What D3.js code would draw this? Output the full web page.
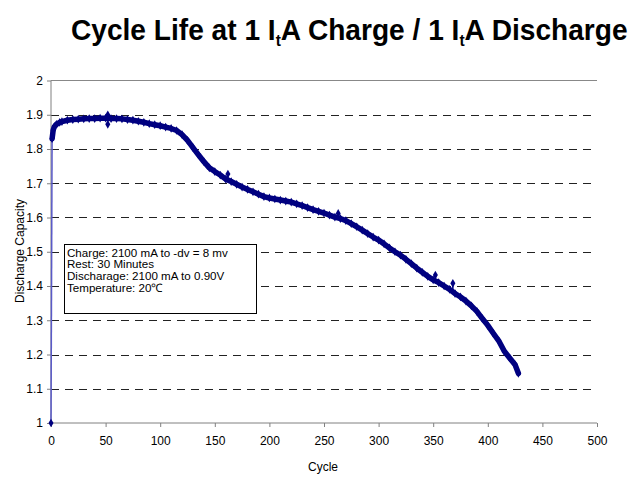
<!DOCTYPE html>
<html><head><meta charset="utf-8">
<script src="https://cdn.jsdelivr.net/npm/d3@7"></script>
<style>
html,body{margin:0;padding:0;background:#fff;}
svg{display:block;font-family:"Liberation Sans",Arial,Helvetica,sans-serif;}
</style></head>
<body>
<svg id="chart" width="640" height="478"></svg>
<script>
// ---- data ----
const cycles = [0,1,2,3,5,8,10,15,20,25,30,35,40,45,50,55,60,65,70,75,80,85,90,95,100,105,110,115,120,125,130,135,140,145,150,155,160,165,170,175,180,185,190,195,200,205,210,215,220,225,230,235,240,245,250,255,260,265,270,275,280,285,290,295,300,305,310,315,320,325,330,335,340,345,350,355,360,365,370,375,380,385,390,395,400,405,410,415,420,425,428];
const capacity = [1.0,1.83,1.855,1.865,1.872,1.878,1.88,1.884,1.886,1.887,1.888,1.889,1.889,1.89,1.89,1.889,1.889,1.888,1.886,1.884,1.881,1.878,1.874,1.871,1.868,1.864,1.86,1.854,1.842,1.825,1.804,1.783,1.763,1.745,1.734,1.724,1.712,1.705,1.697,1.689,1.682,1.675,1.668,1.661,1.657,1.654,1.651,1.648,1.645,1.64,1.635,1.629,1.623,1.618,1.613,1.607,1.601,1.597,1.591,1.582,1.573,1.563,1.553,1.543,1.534,1.523,1.511,1.5,1.49,1.478,1.465,1.452,1.44,1.428,1.418,1.41,1.4,1.39,1.378,1.368,1.356,1.342,1.326,1.305,1.285,1.262,1.24,1.21,1.19,1.17,1.145];
const outlierCycles = [52,52,162,263,352,368];
const outlierValues = [1.872,1.90,1.727,1.612,1.432,1.408];
const xTicks = [0,50,100,150,200,250,300,350,400,450,500];
const yTicks = [1,1.1,1.2,1.3,1.4,1.5,1.6,1.7,1.8,1.9,2];
const yTickLabels = ["1","1.1","1.2","1.3","1.4","1.5","1.6","1.7","1.8","1.9","2"];
const notes = ["Charge: 2100 mA to -dv = 8 mv","Rest: 30 Minutes","Discharage: 2100 mA to 0.90V","Temperature: 20\u2103"];

// ---- layout ----
const svg = d3.select("#chart");
const L = 51, R = 597, T = 80.5, B = 423;
const x = d3.scaleLinear().domain([0,500]).range([L,R]);
const y = d3.scaleLinear().domain([1,2]).range([B,T]);
const navy = "#000080";

// title
const title = svg.append("text").attr("x",0).attr("y",40)
  .attr("font-size",29).attr("font-weight","bold").attr("fill","#000");
title.append("tspan").text("Cycle Life at 1 I");
title.append("tspan").attr("font-size",16).attr("dy",6).text("t");
title.append("tspan").attr("dy",-6).text("A Charge / 1 I");
title.append("tspan").attr("font-size",16).attr("dy",6).text("t");
title.append("tspan").attr("dy",-6).text("A Discharge");
const tw = title.node().getComputedTextLength();
const sx = 557/tw;
title.attr("transform",`translate(71,0) scale(${sx},1)`);

// grid lines
svg.append("g").selectAll("line").data(yTicks.filter(v=>v>1 && v<2)).join("line")
  .attr("x1",L).attr("x2",R).attr("y1",d=>Math.round(y(d))+0.5).attr("y2",d=>Math.round(y(d))+0.5)
  .attr("stroke","#222").attr("stroke-width",1).attr("stroke-dasharray","8,6");
// top border
svg.append("line").attr("x1",L).attr("x2",R).attr("y1",T).attr("y2",T).attr("stroke","#888");

// axes
const yAxis = d3.axisLeft(y).tickValues(yTicks).tickSize(4).tickPadding(4)
  .tickFormat((d,i)=>yTickLabels[i]);
const gy = svg.append("g").attr("transform",`translate(${L},0)`).call(yAxis);
const xAxis = d3.axisBottom(x).tickValues(xTicks).tickSize(4).tickPadding(9);
const gx = svg.append("g").attr("transform",`translate(0,${B})`).call(xAxis);
[gy,gx].forEach(g=>{
  g.select(".domain").attr("stroke","#808080");
  g.selectAll(".tick line").attr("stroke","#808080");
  g.selectAll(".tick text").attr("font-size",12).attr("fill","#000")
   .attr("font-family","Liberation Sans, Arial, sans-serif");
});
gy.select(".domain").attr("d",`M0,${T}V${B}`);
gx.select(".domain").attr("d",`M${L},0H${R}`);

// axis titles
svg.append("text").attr("x",(L+R)/2-1).attr("y",471).attr("text-anchor","middle")
  .attr("font-size",12).text("Cycle");
svg.append("text").attr("transform","translate(24,251) rotate(-90)").attr("text-anchor","middle")
  .attr("font-size",12).text("Discharge Capacity");

// data
const pts = cycles.map((c,i)=>[c,capacity[i]]);
const line = d3.line().x(d=>x(d[0])).y(d=>y(d[1]));
svg.append("path").datum(pts.slice(0,2)).attr("d",line).attr("fill","none")
  .attr("stroke","#5a5ac8").attr("stroke-width",1.5);
svg.append("path").datum(pts.slice(1)).attr("d",line).attr("fill","none")
  .attr("stroke",navy).attr("stroke-width",5.5).attr("stroke-linejoin","round").attr("stroke-linecap","round");
const base = d3.scaleLinear().domain(cycles).range(capacity);
const outl = outlierCycles.map((c,i)=>[c,outlierValues[i]]);
svg.append("g").selectAll("line").data(outl).join("line")
  .attr("x1",d=>x(d[0])).attr("x2",d=>x(d[0]))
  .attr("y1",d=>y(d[1])).attr("y2",d=>y(base(d[0])))
  .attr("stroke",navy).attr("stroke-width",1.5);
const diamond = d3.symbol().type(d3.symbolDiamond).size(22);
svg.append("g").selectAll("path").data(pts.concat(outl)).join("path")
  .attr("transform",d=>`translate(${x(d[0])},${y(d[1])})`)
  .attr("d",diamond).attr("fill",navy);

// annotation box
svg.append("rect").attr("x",64.5).attr("y",244.5).attr("width",192).attr("height",69)
  .attr("fill","#fff").attr("stroke","#000").attr("stroke-width",1);
svg.append("g").selectAll("text").data(notes).join("text")
  .attr("x",67).attr("y",(d,i)=>256.5+i*11.8).attr("font-size",11.6).attr("fill","#000")
  .text(d=>d);
</script>
</body></html>
